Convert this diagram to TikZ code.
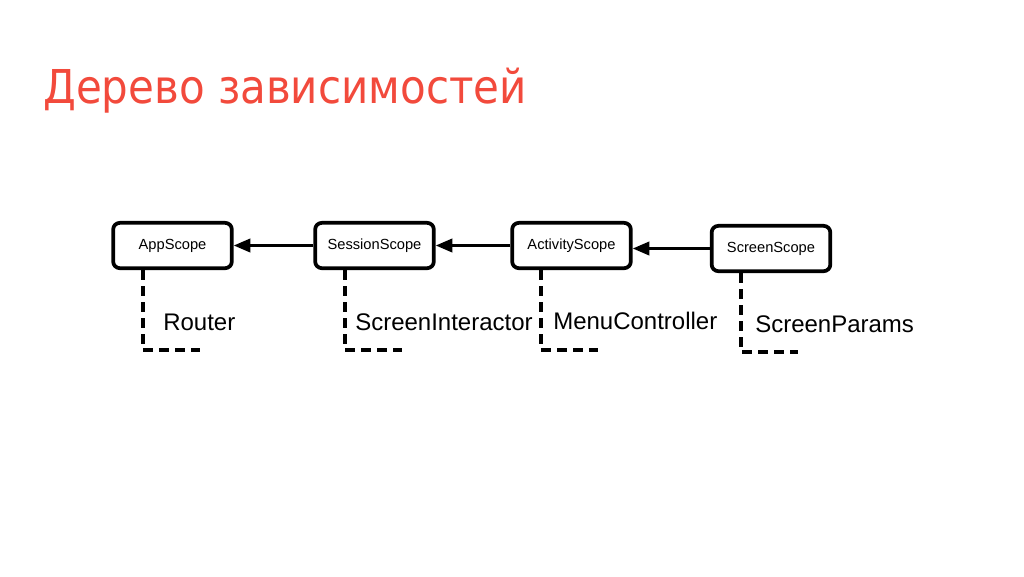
\documentclass[tikz,border=0pt]{standalone}
\usepackage{fontspec}
\setmainfont{Liberation Sans}
\newfontfamily\titlefont[FakeStretch=0.9]{DejaVu Sans}
\usepackage{tikz}
\usetikzlibrary{arrows.meta}
\definecolor{titlered}{RGB}{242,74,60}

\begin{document}
\begin{tikzpicture}[x=0.75pt,y=0.75pt,yscale=-1,xscale=1,
  scopebox/.style={draw,line width=2.8pt,rounded corners=5pt,minimum width=89pt,minimum height=34pt,inner sep=0pt,font=\fontsize{11}{13}\selectfont},
  dep/.style={line width=2.2pt,-{Triangle[length=12.5pt,width=10pt]}},
  holds/.style={line width=2.4pt,dash pattern=on 7.5pt off 4.5pt},
  provided/.style={anchor=west,inner sep=0pt,font=\fontsize{18}{21}\selectfont}]
\useasboundingbox (0,0) rectangle (1024,576);

% Text Node
\draw (43,103) node [anchor=base west,inner sep=0pt,text=titlered,font=\titlefont\fontsize{35}{40}\selectfont] (title) {Дерево зависимостей};

%Shape: Rounded Rectangle
\node [scopebox] (app) at (172.5,245.5) {AppScope};
%Shape: Rounded Rectangle
\node [scopebox] (session) at (374.5,245.5) {SessionScope};
%Shape: Rounded Rectangle
\node [scopebox] (activity) at (571.5,245.5) {ActivityScope};
%Shape: Rounded Rectangle
\node [scopebox] (screen) at (771,248.5) {ScreenScope};

%Straight Lines
\draw [dep] (session.west) -- (app.east);
\draw [dep] (activity.west) -- (session.east);
\draw [dep] (screen.west) -- (screen.west -| activity.east);

%Dashed Lines
\coordinate (appc) at (143,350);
\coordinate (sessionc) at (345,350);
\coordinate (activityc) at (541,350);
\coordinate (screenc) at (741,352);
\draw [holds] (app.south -| appc) -- (appc) -- ++(57,0);
\draw [holds] (session.south -| sessionc) -- (sessionc) -- ++(57,0);
\draw [holds] (activity.south -| activityc) -- (activityc) -- ++(57,0);
\draw [holds] (screen.south -| screenc) -- (screenc) -- ++(57,0);

% Text Node
\draw (163,322) node [provided] (router) {Router};
% Text Node
\draw (355,322) node [provided] (interactor) {ScreenInteractor};
% Text Node
\draw (553,321) node [provided] (menu) {MenuController};
% Text Node
\draw (755,324) node [provided] (params) {ScreenParams};

\end{tikzpicture}
\end{document}
